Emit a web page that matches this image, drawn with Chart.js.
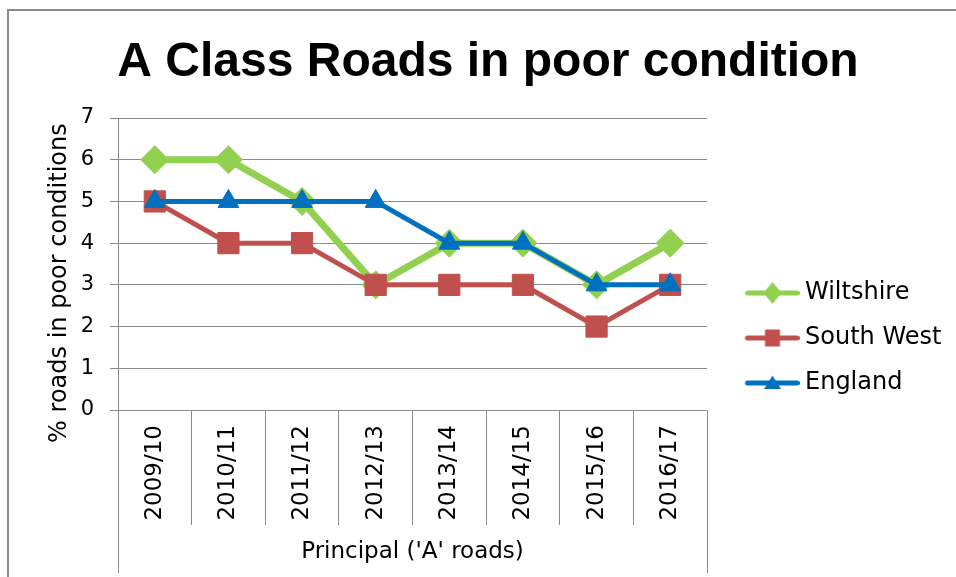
<!DOCTYPE html>
<html>
<head>
<meta charset="utf-8">
<title>A Class Roads in poor condition</title>
<script src="https://cdn.jsdelivr.net/npm/chart.js"></script>
<style>
  html, body { margin: 0; padding: 0; background: #fff; }
  #wrap { width: 956px; height: 577px; }
</style>
</head>
<body>
<div id="wrap"><canvas id="chart" width="956" height="577"></canvas></div>
<script>
// data
const years = ['2009/10', '2010/11', '2011/12', '2012/13', '2013/14', '2014/15', '2015/16', '2016/17'];
const wiltshire = [6, 6, 5, 3, 4, 4, 3, 4];
const southWest = [5, 4, 4, 3, 3, 3, 2, 3];
const england = [5, 5, 5, 5, 4, 4, 3, 3];
const yTicks = [0, 1, 2, 3, 4, 5, 6, 7];

const GREEN = '#92d050';
const RED = '#c0504d';
const BLUE = '#0070c0';
const GRID = '#8a8a8a';
const FONT = "'DejaVu Sans', sans-serif";

// legend icon: a short line with the marker in the middle (Excel style)
function legendIcon(color, shape) {
  const c = document.createElement('canvas');
  c.width = 78;
  c.height = 26;
  const g = c.getContext('2d');
  g.strokeStyle = color;
  g.fillStyle = color;
  g.lineWidth = 5;
  g.lineCap = 'round';
  g.beginPath();
  g.moveTo(26, 13);
  g.lineTo(75.5, 13);
  g.stroke();
  const cx = 51, cy = 13;
  g.beginPath();
  if (shape === 'diamond') {
    g.moveTo(cx, cy - 11); g.lineTo(cx + 9, cy); g.lineTo(cx, cy + 11); g.lineTo(cx - 9, cy);
  } else if (shape === 'square') {
    g.rect(cx - 7.5, cy - 8.5, 15, 17);
  } else {
    g.moveTo(cx, cy - 7.5); g.lineTo(cx + 8.5, cy + 6); g.lineTo(cx - 8.5, cy + 6);
  }
  g.closePath();
  g.fill();
  return c;
}
const icons = [legendIcon(GREEN, 'diamond'), legendIcon(RED, 'square'), legendIcon(BLUE, 'triangle')];

// grey frame round the whole chart
const frame = {
  id: 'frame',
  beforeDraw(chart) {
    const ctx = chart.ctx;
    ctx.save();
    ctx.strokeStyle = '#8c8c8c';
    ctx.lineWidth = 2;
    ctx.beginPath();
    ctx.moveTo(8, chart.height);
    ctx.lineTo(8, 10);
    ctx.lineTo(chart.width, 10);
    ctx.stroke();
    ctx.restore();
  }
};

// outer category dividers run down past the axis title
const edgeLines = {
  id: 'edgeLines',
  afterDraw(chart) {
    const ctx = chart.ctx;
    const a = chart.chartArea;
    ctx.save();
    ctx.strokeStyle = GRID;
    ctx.lineWidth = 1;
    ctx.beginPath();
    [a.left, a.right].forEach(x => {
      x = Math.round(x) + 0.5;
      ctx.moveTo(x, a.bottom);
      ctx.lineTo(x, chart.height - 4);
    });
    ctx.stroke();
    ctx.restore();
  }
};

// fixed width for the legend column so the plot ends where it does in the original
const legendWidth = {
  id: 'legendWidth',
  afterInit(chart) {
    const lg = chart.legend;
    const fit = lg.fit;
    lg.fit = function () {
      fit.call(this);
      this.width = 249;
    };
  }
};

new Chart(document.getElementById('chart'), {
  type: 'line',
  data: {
    labels: years,
    datasets: [
      {
        label: 'Wiltshire',
        data: wiltshire,
        borderColor: GREEN,
        backgroundColor: GREEN,
        borderWidth: 7,
        pointStyle: 'rectRot',
        pointRadius: 14,
        pointBorderWidth: 1,
        order: 2
      },
      {
        label: 'South West',
        data: southWest,
        borderColor: RED,
        backgroundColor: RED,
        borderWidth: 5,
        pointStyle: 'rect',
        pointRadius: 15,
        pointBorderWidth: 1,
        order: 1
      },
      {
        label: 'England',
        data: england,
        borderColor: BLUE,
        backgroundColor: BLUE,
        borderWidth: 5,
        pointStyle: 'triangle',
        pointRadius: 12,
        pointBorderWidth: 1,
        order: 0
      }
    ]
  },
  options: {
    responsive: false,
    animation: false,
    devicePixelRatio: 1,
    layout: { padding: { left: 20, right: 0, top: 0, bottom: 0 } },
    elements: { line: { tension: 0 } },
    plugins: {
      tooltip: { enabled: false },
      title: {
        display: true,
        text: 'A Class Roads in poor condition',
        color: '#000',
        font: { family: "'Liberation Sans', Arial, sans-serif", size: 48, weight: 'bold', lineHeight: 1.2 },
        padding: { top: 34, bottom: 26.4 }
      },
      legend: {
        position: 'right',
        align: 'center',
        title: { display: true, text: ' ', font: { size: 1, lineHeight: 1 }, padding: { top: 98, bottom: 0 } },
        labels: {
          usePointStyle: true,
          pointStyleWidth: 65,
          padding: 21,
          color: '#000',
          font: { family: FONT, size: 24 },
          generateLabels(chart) {
            return chart.data.datasets.map((ds, i) => ({
              text: ds.label,
              pointStyle: icons[i],
              fillStyle: ds.borderColor,
              strokeStyle: ds.borderColor,
              lineWidth: 0,
              fontColor: '#000',
              hidden: false,
              datasetIndex: i
            }));
          }
        }
      }
    },
    scales: {
      x: {
        offset: true,
        grid: { offset: true, drawOnChartArea: false, drawTicks: true, tickLength: 115, color: GRID, lineWidth: 1 },
        border: { color: GRID, width: 1 },
        ticks: { autoSkip: false, minRotation: 90, maxRotation: 90, padding: -100, color: '#000', font: { family: FONT, size: 23 } },
        title: {
          display: true,
          text: "Principal ('A' roads)",
          color: '#000',
          font: { family: FONT, size: 23 },
          padding: { top: 0, bottom: 11 }
        },
        afterFit(scale) { scale.height = 167; }
      },
      y: {
        min: yTicks[0],
        max: yTicks[yTicks.length - 1],
        grid: { color: GRID, lineWidth: 1, tickLength: 8 },
        border: { color: GRID, width: 1 },
        ticks: { stepSize: 1, padding: 16, color: '#000', font: { family: FONT, size: 21 } },
        title: {
          display: true,
          // trailing spaces push the rotated title down, as in the original
          text: '% roads in poor conditions     ',
          color: '#000',
          font: { family: FONT, size: 24 },
          padding: { top: 25.6, bottom: 0 }
        },
        afterFit(scale) { scale.width = 98; }
      }
    }
  },
  plugins: [frame, edgeLines, legendWidth]
});
</script>
</body>
</html>
